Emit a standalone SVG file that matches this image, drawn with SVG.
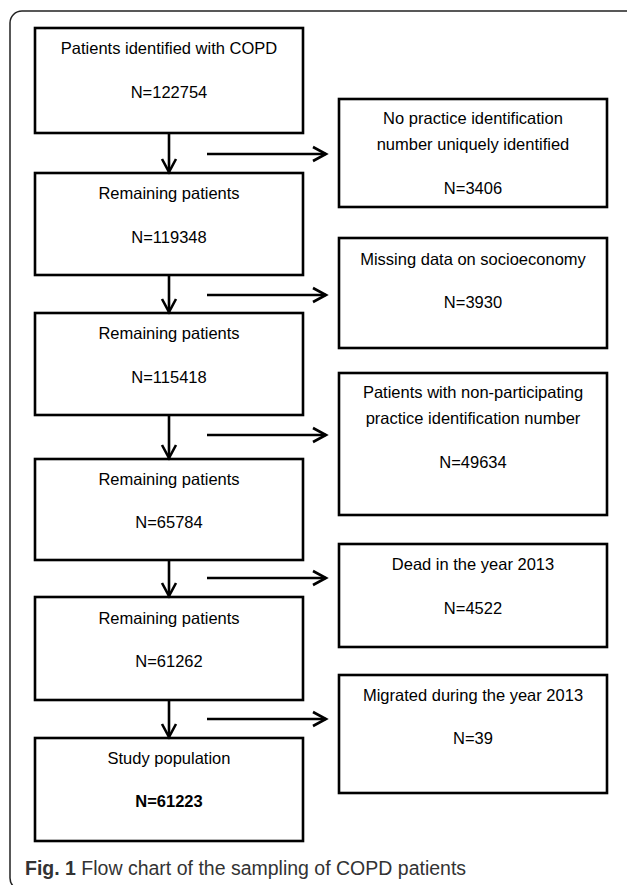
<svg xmlns="http://www.w3.org/2000/svg" width="627" height="885" viewBox="0 0 627 885">
<style>
.box{fill:#fff;stroke:#000;stroke-width:2.6}
.t{font-family:"Liberation Sans",Arial,sans-serif;font-size:16.5px;fill:#000;text-anchor:middle}
.b{font-weight:bold}
.conn{stroke:#000;stroke-width:2.6;fill:none}
.cap{font-family:"Liberation Sans",Arial,sans-serif;font-size:19.5px;fill:#333}
</style>
<defs>
<marker id="ah" markerUnits="userSpaceOnUse" viewBox="-16 -10 20 20" refX="0" refY="0" markerWidth="20" markerHeight="20" orient="auto">
<path d="M-13,-7 L0,0 L-13,7" fill="none" stroke="#000" stroke-width="2.6"/>
</marker>
</defs>
<rect x="10" y="11" width="628" height="879" rx="12" fill="none" stroke="#222" stroke-width="1.5"/>
<g id="b1"><rect class="box" x="35" y="28" width="268" height="105"/><text class="t" x="169" y="54">Patients identified with COPD</text><text class="t" x="169" y="98">N=122754</text></g>
<g id="b2"><rect class="box" x="35" y="173" width="268" height="102"/><text class="t" x="169" y="199">Remaining patients</text><text class="t" x="169" y="243">N=119348</text></g>
<g id="b3"><rect class="box" x="35" y="313" width="268" height="102"/><text class="t" x="169" y="339">Remaining patients</text><text class="t" x="169" y="383">N=115418</text></g>
<g id="b4"><rect class="box" x="35" y="459" width="268" height="101"/><text class="t" x="169" y="485">Remaining patients</text><text class="t" x="169" y="528">N=65784</text></g>
<g id="b5"><rect class="box" x="35" y="597" width="268" height="103"/><text class="t" x="169" y="624">Remaining patients</text><text class="t" x="169" y="667">N=61262</text></g>
<g id="b6"><rect class="box" x="35" y="738" width="268" height="103"/><text class="t" x="169" y="764">Study population</text><text class="t b" x="169" y="807">N=61223</text></g>
<g id="r1"><rect class="box" x="339" y="99" width="268" height="108"/><text class="t" x="473" y="124">No practice identification</text><text class="t" x="473" y="150">number uniquely identified</text><text class="t" x="473" y="194">N=3406</text></g>
<g id="r2"><rect class="box" x="339" y="238" width="268" height="110"/><text class="t" x="473" y="265">Missing data on socioeconomy</text><text class="t" x="473" y="308">N=3930</text></g>
<g id="r3"><rect class="box" x="339" y="373" width="268" height="142"/><text class="t" x="473" y="398">Patients with non-participating</text><text class="t" x="473" y="424">practice identification number</text><text class="t" x="473" y="468">N=49634</text></g>
<g id="r4"><rect class="box" x="339" y="544" width="268" height="103"/><text class="t" x="473" y="570">Dead in the year 2013</text><text class="t" x="473" y="614">N=4522</text></g>
<g id="r5"><rect class="box" x="339" y="675" width="268" height="118"/><text class="t" x="473" y="701">Migrated during the year 2013</text><text class="t" x="473" y="744">N=39</text></g>
<g id="connectors">
<line class="conn" x1="169" y1="134" x2="169" y2="172" marker-end="url(#ah)"/>
<line class="conn" x1="169" y1="276" x2="169" y2="312" marker-end="url(#ah)"/>
<line class="conn" x1="169" y1="416" x2="169" y2="458" marker-end="url(#ah)"/>
<line class="conn" x1="169" y1="561" x2="169" y2="596" marker-end="url(#ah)"/>
<line class="conn" x1="169" y1="701" x2="169" y2="737" marker-end="url(#ah)"/>
<line class="conn" x1="207" y1="154" x2="326" y2="154" marker-end="url(#ah)"/>
<line class="conn" x1="207" y1="295" x2="326" y2="295" marker-end="url(#ah)"/>
<line class="conn" x1="207" y1="435" x2="326" y2="435" marker-end="url(#ah)"/>
<line class="conn" x1="207" y1="578" x2="326" y2="578" marker-end="url(#ah)"/>
<line class="conn" x1="207" y1="719" x2="326" y2="719" marker-end="url(#ah)"/>
</g>
<text class="cap" x="25" y="875"><tspan font-weight="bold">Fig. 1</tspan> Flow chart of the sampling of COPD patients</text>
</svg>
